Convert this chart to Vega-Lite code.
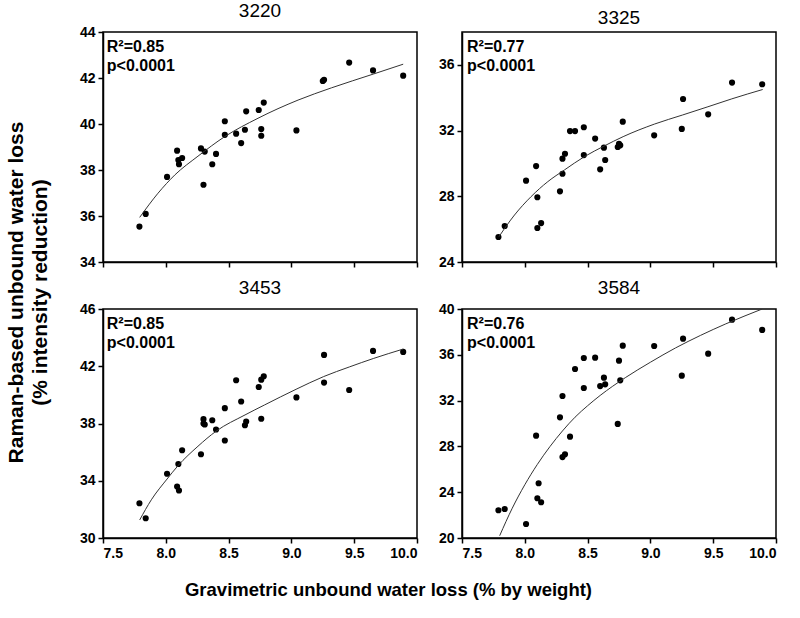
{
  "$schema": "https://vega.github.io/schema/vega-lite/v6.json",
  "padding": {"left": 4, "top": 1, "right": 10, "bottom": 10},
  "background": "white",
  "config": {
    "font": "Liberation Sans",
    "view": {"stroke": "black", "strokeWidth": 1.5},
    "axis": {"grid": false, "domainColor": "black", "domainWidth": 1.5, "tickColor": "black", "tickWidth": 1.5, "labelColor": "black", "labelFontSize": 14, "labelFontWeight": "bold", "labelFont": "Liberation Sans", "titleColor": "black", "labelPadding": 3},
    "title": {"fontSize": 19, "fontWeight": "normal", "font": "Liberation Sans", "color": "black", "offset": 0}
  },
  "datasets": {
    "pts": [
      {"panel": "3220", "x": 7.79, "y": 35.54}, {"panel": "3220", "x": 7.84, "y": 36.09}, {"panel": "3220", "x": 8.01, "y": 37.70},
      {"panel": "3220", "x": 8.09, "y": 38.84}, {"panel": "3220", "x": 8.10, "y": 38.43}, {"panel": "3220", "x": 8.105, "y": 38.25},
      {"panel": "3220", "x": 8.13, "y": 38.52}, {"panel": "3220", "x": 8.28, "y": 38.94}, {"panel": "3220", "x": 8.31, "y": 38.80},
      {"panel": "3220", "x": 8.30, "y": 37.36}, {"panel": "3220", "x": 8.37, "y": 38.25}, {"panel": "3220", "x": 8.40, "y": 38.70},
      {"panel": "3220", "x": 8.47, "y": 39.53}, {"panel": "3220", "x": 8.47, "y": 40.12}, {"panel": "3220", "x": 8.56, "y": 39.58},
      {"panel": "3220", "x": 8.60, "y": 39.17}, {"panel": "3220", "x": 8.63, "y": 39.75}, {"panel": "3220", "x": 8.64, "y": 40.55},
      {"panel": "3220", "x": 8.74, "y": 40.61}, {"panel": "3220", "x": 8.76, "y": 39.78}, {"panel": "3220", "x": 8.76, "y": 39.49},
      {"panel": "3220", "x": 8.78, "y": 40.93}, {"panel": "3220", "x": 9.04, "y": 39.72}, {"panel": "3220", "x": 9.25, "y": 41.87},
      {"panel": "3220", "x": 9.26, "y": 41.92}, {"panel": "3220", "x": 9.46, "y": 42.67}, {"panel": "3220", "x": 9.65, "y": 42.33},
      {"panel": "3220", "x": 9.89, "y": 42.1},

      {"panel": "3325", "x": 7.79, "y": 25.52}, {"panel": "3325", "x": 7.84, "y": 26.19}, {"panel": "3325", "x": 8.01, "y": 28.95},
      {"panel": "3325", "x": 8.09, "y": 29.84}, {"panel": "3325", "x": 8.10, "y": 27.94}, {"panel": "3325", "x": 8.10, "y": 26.07},
      {"panel": "3325", "x": 8.13, "y": 26.37}, {"panel": "3325", "x": 8.28, "y": 28.30}, {"panel": "3325", "x": 8.30, "y": 29.37},
      {"panel": "3325", "x": 8.30, "y": 30.29}, {"panel": "3325", "x": 8.32, "y": 30.59}, {"panel": "3325", "x": 8.36, "y": 31.97},
      {"panel": "3325", "x": 8.40, "y": 31.97}, {"panel": "3325", "x": 8.47, "y": 32.20}, {"panel": "3325", "x": 8.47, "y": 30.51},
      {"panel": "3325", "x": 8.56, "y": 31.51}, {"panel": "3325", "x": 8.60, "y": 29.64}, {"panel": "3325", "x": 8.63, "y": 30.96},
      {"panel": "3325", "x": 8.64, "y": 30.21}, {"panel": "3325", "x": 8.74, "y": 31.00}, {"panel": "3325", "x": 8.75, "y": 31.20},
      {"panel": "3325", "x": 8.76, "y": 31.10}, {"panel": "3325", "x": 8.78, "y": 32.54}, {"panel": "3325", "x": 9.03, "y": 31.71},
      {"panel": "3325", "x": 9.26, "y": 33.92}, {"panel": "3325", "x": 9.25, "y": 32.10}, {"panel": "3325", "x": 9.46, "y": 32.99},
      {"panel": "3325", "x": 9.65, "y": 34.92}, {"panel": "3325", "x": 9.89, "y": 34.82},

      {"panel": "3453", "x": 7.79, "y": 32.43}, {"panel": "3453", "x": 7.84, "y": 31.38}, {"panel": "3453", "x": 8.01, "y": 34.49},
      {"panel": "3453", "x": 8.10, "y": 35.17}, {"panel": "3453", "x": 8.13, "y": 36.13}, {"panel": "3453", "x": 8.09, "y": 33.60},
      {"panel": "3453", "x": 8.105, "y": 33.32}, {"panel": "3453", "x": 8.28, "y": 35.85}, {"panel": "3453", "x": 8.30, "y": 38.30},
      {"panel": "3453", "x": 8.30, "y": 38.00}, {"panel": "3453", "x": 8.31, "y": 37.93}, {"panel": "3453", "x": 8.37, "y": 38.23},
      {"panel": "3453", "x": 8.40, "y": 37.58}, {"panel": "3453", "x": 8.47, "y": 36.81}, {"panel": "3453", "x": 8.47, "y": 39.07},
      {"panel": "3453", "x": 8.56, "y": 41.02}, {"panel": "3453", "x": 8.60, "y": 39.54}, {"panel": "3453", "x": 8.63, "y": 37.88},
      {"panel": "3453", "x": 8.64, "y": 38.14}, {"panel": "3453", "x": 8.74, "y": 40.55}, {"panel": "3453", "x": 8.76, "y": 41.06},
      {"panel": "3453", "x": 8.78, "y": 41.30}, {"panel": "3453", "x": 8.76, "y": 38.33}, {"panel": "3453", "x": 9.04, "y": 39.82},
      {"panel": "3453", "x": 9.26, "y": 42.79}, {"panel": "3453", "x": 9.26, "y": 40.86}, {"panel": "3453", "x": 9.46, "y": 40.34},
      {"panel": "3453", "x": 9.65, "y": 43.07}, {"panel": "3453", "x": 9.89, "y": 43.0},

      {"panel": "3584", "x": 7.79, "y": 22.42}, {"panel": "3584", "x": 7.84, "y": 22.53}, {"panel": "3584", "x": 8.01, "y": 21.22},
      {"panel": "3584", "x": 8.09, "y": 28.94}, {"panel": "3584", "x": 8.11, "y": 24.78}, {"panel": "3584", "x": 8.10, "y": 23.47},
      {"panel": "3584", "x": 8.13, "y": 23.12}, {"panel": "3584", "x": 8.28, "y": 30.54}, {"panel": "3584", "x": 8.30, "y": 32.40},
      {"panel": "3584", "x": 8.30, "y": 27.07}, {"panel": "3584", "x": 8.32, "y": 27.31}, {"panel": "3584", "x": 8.36, "y": 28.85},
      {"panel": "3584", "x": 8.40, "y": 34.76}, {"panel": "3584", "x": 8.47, "y": 33.10}, {"panel": "3584", "x": 8.47, "y": 35.72},
      {"panel": "3584", "x": 8.56, "y": 35.75}, {"panel": "3584", "x": 8.60, "y": 33.27}, {"panel": "3584", "x": 8.63, "y": 34.00},
      {"panel": "3584", "x": 8.64, "y": 33.42}, {"panel": "3584", "x": 8.74, "y": 29.96}, {"panel": "3584", "x": 8.75, "y": 35.49},
      {"panel": "3584", "x": 8.76, "y": 33.77}, {"panel": "3584", "x": 8.78, "y": 36.80}, {"panel": "3584", "x": 9.03, "y": 36.77},
      {"panel": "3584", "x": 9.26, "y": 37.41}, {"panel": "3584", "x": 9.25, "y": 34.18}, {"panel": "3584", "x": 9.46, "y": 36.10},
      {"panel": "3584", "x": 9.65, "y": 39.07}, {"panel": "3584", "x": 9.89, "y": 38.17}
    ],
    "fit": [
      {"panel": "3220", "x": 7.792, "y": 35.94}, {"panel": "3220", "x": 7.938, "y": 36.99}, {"panel": "3220", "x": 8.071, "y": 37.78},
      {"panel": "3220", "x": 8.256, "y": 38.6}, {"panel": "3220", "x": 8.469, "y": 39.45}, {"panel": "3220", "x": 8.734, "y": 40.25},
      {"panel": "3220", "x": 9.053, "y": 41.04}, {"panel": "3220", "x": 9.318, "y": 41.57}, {"panel": "3220", "x": 9.652, "y": 42.17},
      {"panel": "3220", "x": 9.89, "y": 42.6},

      {"panel": "3325", "x": 7.794, "y": 25.54}, {"panel": "3325", "x": 7.918, "y": 26.86}, {"panel": "3325", "x": 8.05, "y": 27.98},
      {"panel": "3325", "x": 8.183, "y": 28.89}, {"panel": "3325", "x": 8.315, "y": 29.6}, {"panel": "3325", "x": 8.474, "y": 30.41},
      {"panel": "3325", "x": 8.632, "y": 31.06}, {"panel": "3325", "x": 8.783, "y": 31.63}, {"panel": "3325", "x": 9.034, "y": 32.4},
      {"panel": "3325", "x": 9.257, "y": 32.95}, {"panel": "3325", "x": 9.458, "y": 33.45}, {"panel": "3325", "x": 9.648, "y": 33.93},
      {"panel": "3325", "x": 9.894, "y": 34.5},

      {"panel": "3453", "x": 7.792, "y": 31.26}, {"panel": "3453", "x": 7.885, "y": 32.67}, {"panel": "3453", "x": 8.01, "y": 34.12},
      {"panel": "3453", "x": 8.097, "y": 35.05}, {"panel": "3453", "x": 8.256, "y": 36.41}, {"panel": "3453", "x": 8.4, "y": 37.46},
      {"panel": "3453", "x": 8.631, "y": 38.6}, {"panel": "3453", "x": 8.787, "y": 39.3}, {"panel": "3453", "x": 9.037, "y": 40.39},
      {"panel": "3453", "x": 9.257, "y": 41.28}, {"panel": "3453", "x": 9.461, "y": 41.95}, {"panel": "3453", "x": 9.652, "y": 42.54},
      {"panel": "3453", "x": 9.89, "y": 43.2},

      {"panel": "3584", "x": 7.8, "y": 20.2}, {"panel": "3584", "x": 7.9, "y": 22.6}, {"panel": "3584", "x": 8.0, "y": 24.65},
      {"panel": "3584", "x": 8.1, "y": 26.43}, {"panel": "3584", "x": 8.2, "y": 27.98}, {"panel": "3584", "x": 8.3, "y": 29.35},
      {"panel": "3584", "x": 8.4, "y": 30.55}, {"panel": "3584", "x": 8.5, "y": 31.55}, {"panel": "3584", "x": 8.6, "y": 32.45},
      {"panel": "3584", "x": 8.8, "y": 34.0}, {"panel": "3584", "x": 9.0, "y": 35.35}, {"panel": "3584", "x": 9.2, "y": 36.6},
      {"panel": "3584", "x": 9.4, "y": 37.7}, {"panel": "3584", "x": 9.6, "y": 38.7}, {"panel": "3584", "x": 9.89, "y": 40.0}
    ],
    "notes": [
      {"panel": "3220", "note": ["R²=0.85", "p<0.0001"]},
      {"panel": "3325", "note": ["R²=0.77", "p<0.0001"]},
      {"panel": "3453", "note": ["R²=0.85", "p<0.0001"]},
      {"panel": "3584", "note": ["R²=0.76", "p<0.0001"]}
    ]
  },
  "columns": 2,
  "spacing": {"column": 45, "row": 47},
  "bounds": "flush",
  "concat": [
    {
      "width": 314, "height": 230,
      "title": {"text": "3220", "frame": "group"},
      "layer": [
        {
          "data": {"name": "pts"},
          "transform": [{"filter": "datum.panel == '3220'"}],
          "mark": {"type": "point", "filled": true, "color": "black", "size": 38, "opacity": 1, "shape": "circle"},
          "encoding": {
            "x": {"field": "x", "type": "quantitative", "scale": {"domain": [7.5, 10], "nice": false},
                  "axis": {"title": null, "labels": false, "values": [7.5, 7.75, 8, 8.25, 8.5, 8.75, 9, 9.25, 9.5, 9.75, 10],
                           "tickSize": {"condition": {"test": "(datum.value*2)%1==0", "value": 5}, "value": 3}}},
            "y": {"field": "y", "type": "quantitative", "scale": {"domain": [34, 44], "nice": false, "zero": false},
                  "axis": {"values": [34, 35, 36, 37, 38, 39, 40, 41, 42, 43, 44],
                           "labelExpr": "datum.value % 2 == 0 ? datum.label : ''",
                           "tickSize": {"condition": {"test": "datum.value % 2 == 0", "value": 5}, "value": 3},
                           "title": ["Raman-based unbound water loss", "(% intensity reduction)"],
                           "titleFontSize": 21, "titleFontWeight": "bold", "titleAngle": 270,
                           "titleX": -87, "titleY": 260, "titleAlign": "center", "titleBaseline": "middle", "titleLineHeight": 24}}
          }
        },
        {
          "data": {"name": "fit"},
          "transform": [{"filter": "datum.panel == '3220'"}],
          "mark": {"type": "line", "color": "#333333", "strokeWidth": 1, "clip": true, "interpolate": "monotone"},
          "encoding": {"x": {"field": "x", "type": "quantitative"}, "y": {"field": "y", "type": "quantitative"}}
        },
        {
          "data": {"name": "notes"},
          "transform": [{"filter": "datum.panel == '3220'"}],
          "mark": {"type": "text", "align": "left", "baseline": "alphabetic", "fontSize": 16, "fontWeight": "bold", "lineHeight": 19, "color": "black"},
          "encoding": {"x": {"datum": 7.53}, "y": {"datum": 43.13}, "text": {"field": "note"}}
        }
      ]
    },
    {
      "width": 314, "height": 230,
      "title": {"text": "3325", "frame": "group"},
      "layer": [
        {
          "data": {"name": "pts"},
          "transform": [{"filter": "datum.panel == '3325'"}],
          "mark": {"type": "point", "filled": true, "color": "black", "size": 38, "opacity": 1, "shape": "circle"},
          "encoding": {
            "x": {"field": "x", "type": "quantitative", "scale": {"domain": [7.5, 10], "nice": false},
                  "axis": {"title": null, "labels": false, "values": [7.5, 7.75, 8, 8.25, 8.5, 8.75, 9, 9.25, 9.5, 9.75, 10],
                           "tickSize": {"condition": {"test": "(datum.value*2)%1==0", "value": 5}, "value": 3}}},
            "y": {"field": "y", "type": "quantitative", "scale": {"domain": [24, 38], "nice": false, "zero": false},
                  "axis": {"title": null, "values": [24, 25, 26, 27, 28, 29, 30, 31, 32, 33, 34, 35, 36, 37, 38],
                           "labelExpr": "datum.value % 2 == 0 ? datum.label : ''",
                           "tickSize": {"condition": {"test": "datum.value % 2 == 0", "value": 5}, "value": 3}}}
          }
        },
        {
          "data": {"name": "fit"},
          "transform": [{"filter": "datum.panel == '3325'"}],
          "mark": {"type": "line", "color": "#333333", "strokeWidth": 1, "clip": true, "interpolate": "monotone"},
          "encoding": {"x": {"field": "x", "type": "quantitative"}, "y": {"field": "y", "type": "quantitative"}}
        },
        {
          "data": {"name": "notes"},
          "transform": [{"filter": "datum.panel == '3325'"}],
          "mark": {"type": "text", "align": "left", "baseline": "alphabetic", "fontSize": 16, "fontWeight": "bold", "lineHeight": 19, "color": "black"},
          "encoding": {"x": {"datum": 7.54}, "y": {"datum": 36.78}, "text": {"field": "note"}}
        }
      ]
    },
    {
      "width": 314, "height": 229,
      "title": {"text": "3453", "frame": "group"},
      "layer": [
        {
          "data": {"name": "pts"},
          "transform": [{"filter": "datum.panel == '3453'"}],
          "mark": {"type": "point", "filled": true, "color": "black", "size": 38, "opacity": 1, "shape": "circle"},
          "encoding": {
            "x": {"field": "x", "type": "quantitative", "scale": {"domain": [7.5, 10], "nice": false},
                  "axis": {"values": [7.5, 7.75, 8, 8.25, 8.5, 8.75, 9, 9.25, 9.5, 9.75, 10],
                           "labelExpr": "(datum.value*2)%1==0 ? format(datum.value, '.1f') : ''",
                           "tickSize": {"condition": {"test": "(datum.value*2)%1==0", "value": 5}, "value": 3},
                           "title": "Gravimetric unbound water loss (% by weight)",
                           "titleFontSize": 18.5, "titleFontWeight": "bold",
                           "titleX": 285, "titleY": 42, "titleAlign": "center", "titleBaseline": "top"}},
            "y": {"field": "y", "type": "quantitative", "scale": {"domain": [30, 46], "nice": false, "zero": false},
                  "axis": {"title": null, "values": [30, 31, 32, 33, 34, 35, 36, 37, 38, 39, 40, 41, 42, 43, 44, 45, 46],
                           "labelExpr": "datum.value % 2 == 0 ? datum.label : ''",
                           "tickSize": {"condition": {"test": "datum.value % 2 == 0", "value": 5}, "value": 3}}}
          }
        },
        {
          "data": {"name": "fit"},
          "transform": [{"filter": "datum.panel == '3453'"}],
          "mark": {"type": "line", "color": "#333333", "strokeWidth": 1, "clip": true, "interpolate": "monotone"},
          "encoding": {"x": {"field": "x", "type": "quantitative"}, "y": {"field": "y", "type": "quantitative"}}
        },
        {
          "data": {"name": "notes"},
          "transform": [{"filter": "datum.panel == '3453'"}],
          "mark": {"type": "text", "align": "left", "baseline": "alphabetic", "fontSize": 16, "fontWeight": "bold", "lineHeight": 19, "color": "black"},
          "encoding": {"x": {"datum": 7.53}, "y": {"datum": 44.6}, "text": {"field": "note"}}
        }
      ]
    },
    {
      "width": 314, "height": 229,
      "title": {"text": "3584", "frame": "group"},
      "layer": [
        {
          "data": {"name": "pts"},
          "transform": [{"filter": "datum.panel == '3584'"}],
          "mark": {"type": "point", "filled": true, "color": "black", "size": 38, "opacity": 1, "shape": "circle"},
          "encoding": {
            "x": {"field": "x", "type": "quantitative", "scale": {"domain": [7.5, 10], "nice": false},
                  "axis": {"title": null, "values": [7.5, 7.75, 8, 8.25, 8.5, 8.75, 9, 9.25, 9.5, 9.75, 10],
                           "labelExpr": "(datum.value*2)%1==0 ? format(datum.value, '.1f') : ''",
                           "tickSize": {"condition": {"test": "(datum.value*2)%1==0", "value": 5}, "value": 3}}},
            "y": {"field": "y", "type": "quantitative", "scale": {"domain": [20, 40], "nice": false, "zero": false},
                  "axis": {"title": null, "values": [20, 22, 24, 26, 28, 30, 32, 34, 36, 38, 40],
                           "labelExpr": "datum.value % 4 == 0 ? datum.label : ''",
                           "tickSize": {"condition": {"test": "datum.value % 4 == 0", "value": 5}, "value": 3}}}
          }
        },
        {
          "data": {"name": "fit"},
          "transform": [{"filter": "datum.panel == '3584'"}],
          "mark": {"type": "line", "color": "#333333", "strokeWidth": 1, "clip": true, "interpolate": "monotone"},
          "encoding": {"x": {"field": "x", "type": "quantitative"}, "y": {"field": "y", "type": "quantitative"}}
        },
        {
          "data": {"name": "notes"},
          "transform": [{"filter": "datum.panel == '3584'"}],
          "mark": {"type": "text", "align": "left", "baseline": "alphabetic", "fontSize": 16, "fontWeight": "bold", "lineHeight": 19, "color": "black"},
          "encoding": {"x": {"datum": 7.54}, "y": {"datum": 38.25}, "text": {"field": "note"}}
        }
      ]
    }
  ]
}
